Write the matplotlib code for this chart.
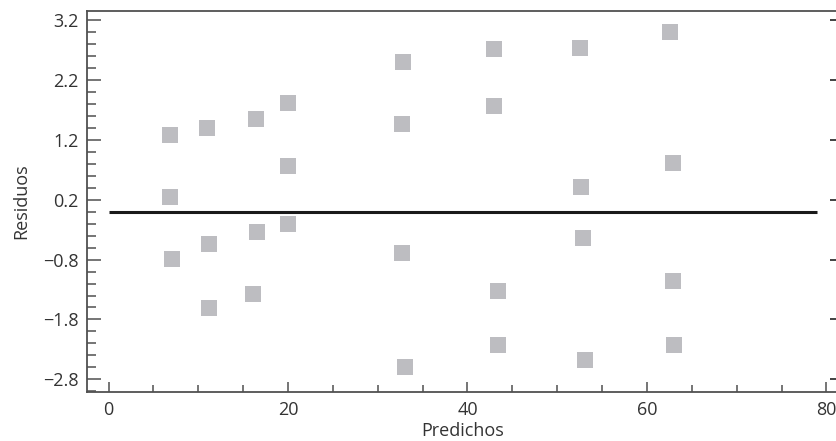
import numpy as np
import matplotlib
matplotlib.use("Agg")
import matplotlib.pyplot as plt
from matplotlib.ticker import FixedLocator, MultipleLocator

# valores
predichos = [6.9, 6.9, 7.1,
             11.0, 11.25, 11.25,
             16.4, 16.6, 16.15,
             19.95, 19.95, 19.95,
             32.85, 32.65, 32.65, 33.0,
             42.9, 42.9, 43.35, 43.35,
             52.5, 52.7, 52.9, 53.05,
             62.6, 62.85, 62.95, 63.05]
residuos = [1.28, 0.25, -0.79,
            1.40, -0.54, -1.61,
            1.55, -0.34, -1.37,
            1.82, 0.76, -0.20,
            2.50, 1.47, -0.69, -2.59,
            2.72, 1.77, -1.32, -2.22,
            2.73, 0.41, -0.44, -2.47,
            3.01, 0.82, -1.16, -2.22]
linea_x = [0, 79]
linea_y = [0, 0]
yticks = [-2.8, -1.8, -0.8, 0.2, 1.2, 2.2, 3.2]
xticks = [0, 20, 40, 60, 80]

plt.rcParams['font.family'] = ['Open Sans', 'DejaVu Sans']
spine_col = '#505050'
text_col = '#333333'

fig = plt.figure(figsize=(8.37, 4.41), dpi=100)
ax = fig.add_axes([87 / 837, 49.3 / 441, 751 / 837, 380.8 / 441])

ax.scatter(predichos, residuos, marker='s', s=117, color='#bdbdc1', linewidths=0, zorder=3)
ax.plot(linea_x, linea_y, color='#1a1a1a', lw=2.2, solid_capstyle='butt', zorder=2)

ax.set_xlim(-2.4, 81.29)
ax.set_ylim(-3.007, 3.355)

ax.xaxis.set_major_locator(FixedLocator(xticks))
ax.xaxis.set_minor_locator(MultipleLocator(5))
ax.yaxis.set_major_locator(FixedLocator(yticks))
ax.yaxis.set_minor_locator(FixedLocator(np.round(np.arange(-3.0, 3.35, 0.2), 2)))

ax.tick_params(axis='y', which='major', direction='in', length=10, width=1.1,
               color=spine_col, labelsize=13, pad=6, labelcolor=text_col)
ax.tick_params(axis='y', which='minor', direction='in', length=6.5, width=1.1, color=spine_col)
ax.tick_params(axis='x', which='major', direction='in', length=7, width=1.1,
               color=spine_col, labelsize=13, pad=6.5, labelcolor=text_col)
ax.tick_params(axis='x', which='minor', direction='in', length=5, width=1.1, color=spine_col)

for side in ['left', 'bottom', 'top']:
    ax.spines[side].set_color(spine_col)
    ax.spines[side].set_linewidth(1.3)
ax.spines['right'].set_visible(False)

# ticks del lado derecho
sec = ax.secondary_yaxis('right')
sec.yaxis.set_major_locator(FixedLocator(yticks))
sec.yaxis.set_minor_locator(FixedLocator(np.round(np.arange(-3.0, 3.35, 0.2), 2)))
sec.tick_params(which='major', direction='in', length=5.8, width=1.3, color=text_col, labelright=False)
sec.tick_params(which='minor', direction='in', length=1.5, width=1.0, color='#777777')
sec.spines['right'].set_visible(False)

ax.set_xlabel('Predichos', fontsize=13, color=text_col, labelpad=2)
ax.set_ylabel('Residuos', fontsize=13, color=text_col, labelpad=9)

fig.savefig('out.png', dpi=100)
